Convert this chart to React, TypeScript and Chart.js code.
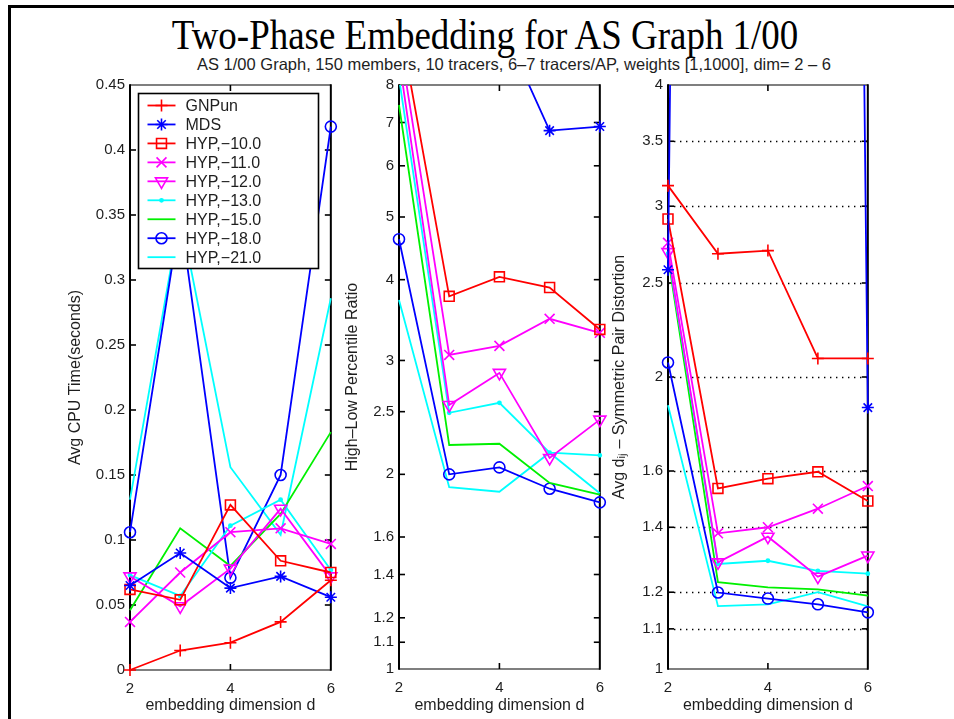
import React, { useEffect, useRef } from 'react';
import { Chart, registerables } from 'chart.js';

Chart.register(...registerables);

// ---------------- data ----------------
const DIMS = [2, 3, 4, 5, 6];
const X_TICKS = [2, 4, 6];
const SERIES_LABELS = ['GNPun', 'MDS', 'HYP,\u221210.0', 'HYP,\u221211.0', 'HYP,\u221212.0', 'HYP,\u221213.0', 'HYP,\u221215.0', 'HYP,\u221218.0', 'HYP,\u221221.0'];

const CPU_TICKS = [0, 0.05, 0.1, 0.15, 0.2, 0.25, 0.3, 0.35, 0.4, 0.45];
const RATIO_TICKS = [1, 1.1, 1.2, 1.4, 1.6, 2, 2.5, 3, 4, 5, 6, 7, 8];
const DIST_TICKS = [1, 1.1, 1.2, 1.4, 1.6, 2, 2.5, 3, 3.5, 4];

// Panel 1: Avg CPU time (seconds)
const CPU_GNPUN = [0, 0.015, 0.021, 0.037, 0.069];
const CPU_MDS = [0.065, 0.090, 0.063, 0.072, 0.056];
const CPU_H10 = [0.062, 0.054, 0.127, 0.084, 0.075];
const CPU_H11 = [0.037, 0.075, 0.106, 0.109, 0.097];
const CPU_H12 = [0.072, 0.049, 0.078, 0.124, 0.072];
const CPU_H13 = [0.073, 0.057, 0.111, 0.131, 0.077];
const CPU_H15 = [0.046, 0.109, 0.080, 0.120, 0.183];
const CPU_H18 = [0.106, 0.35, 0.071, 0.150, 0.418];
const CPU_H21 = [0.131, 0.35, 0.156, 0.104, 0.286];

// Panel 2: High-Low percentile ratio
const RATIO_GNPUN = [20, 16, 14, 13, 12];
const RATIO_MDS = [25, 14, 10.1, 6.8, 6.9];
const RATIO_H10 = [10.1, 3.77, 4.04, 3.89, 3.35];
const RATIO_H11 = [9.5, 3.06, 3.16, 3.48, 3.31];
const RATIO_H12 = [8.8, 2.56, 2.87, 2.12, 2.43];
const RATIO_H13 = [8.2, 2.49, 2.58, 2.16, 2.14];
const RATIO_H15 = [7.45, 2.22, 2.23, 1.94, 1.86];
const RATIO_H18 = [4.62, 2.0, 2.05, 1.9, 1.81];
const RATIO_H21 = [3.72, 1.91, 1.88, 2.16, 1.87];

// Panel 3: Avg dij - symmetric pair distortion
const DIST_GNPUN = [3.15, 2.68, 2.7, 2.09, 2.09];
const DIST_MDS = [2.58, 100000, 100000, 100000, 1.86];
const DIST_H10 = [2.91, 1.535, 1.571, 1.597, 1.49];
const DIST_H11 = [2.75, 1.38, 1.4, 1.463, 1.544];
const DIST_H12 = [2.69, 1.288, 1.369, 1.245, 1.309];
const DIST_H13 = [2.68, 1.283, 1.293, 1.262, 1.254];
const DIST_H15 = [2.66, 1.229, 1.214, 1.208, 1.19];
const DIST_H18 = [2.07, 1.199, 1.182, 1.166, 1.144];
const DIST_H21 = [1.87, 1.161, 1.166, 1.2, 1.16];

// ---------------- styles ----------------
type Style = { color: string; marker: string | null; r: number; rot?: number; fill?: boolean };
const STYLES: Style[] = [
  { color: '#ff0000', marker: 'cross', r: 6 },
  { color: '#0000ff', marker: 'star', r: 6 },
  { color: '#ff0000', marker: 'rect', r: 7 },
  { color: '#ff00ff', marker: 'crossRot', r: 7 },
  { color: '#ff00ff', marker: 'triangle', r: 7, rot: 180 },
  { color: '#00ffff', marker: 'circle', r: 1.6, fill: true },
  { color: '#00f000', marker: null, r: 0 },
  { color: '#0000ff', marker: 'circle', r: 5.5 },
  { color: '#00ffff', marker: null, r: 0 },
];

const SANS = '"Liberation Sans", Arial, Helvetica, sans-serif';
const TEXT_COLOR = '#1e1e1e';
const LINE_W = 1.8;

function buildDatasets(values: number[][]) {
  return values.map((vals, i) => {
    const st = STYLES[i];
    return {
      label: SERIES_LABELS[i],
      data: DIMS.map((d, j) => ({ x: d, y: vals[j] })),
      borderColor: st.color,
      backgroundColor: st.color,
      borderWidth: LINE_W,
      pointStyle: st.marker || 'circle',
      pointRadius: st.marker ? st.r : 0,
      pointRotation: st.rot || 0,
      pointBorderColor: st.color,
      pointBackgroundColor: st.fill ? st.color : 'rgba(0,0,0,0)',
      pointBorderWidth: 1.6,
      tension: 0,
      clip: { left: 12, right: 12, top: 0, bottom: 12 },
    };
  });
}

function drawMarker(ctx: CanvasRenderingContext2D, st: Style, x: number, y: number) {
  if (!st.marker) return;
  const r = st.r;
  ctx.save();
  ctx.strokeStyle = st.color;
  ctx.fillStyle = st.color;
  ctx.lineWidth = 1.6;
  ctx.beginPath();
  const d = r * Math.SQRT1_2;
  switch (st.marker) {
    case 'cross':
      ctx.moveTo(x - r, y); ctx.lineTo(x + r, y);
      ctx.moveTo(x, y - r); ctx.lineTo(x, y + r);
      ctx.stroke();
      break;
    case 'star':
      ctx.moveTo(x - r, y); ctx.lineTo(x + r, y);
      ctx.moveTo(x, y - r); ctx.lineTo(x, y + r);
      ctx.moveTo(x - d, y - d); ctx.lineTo(x + d, y + d);
      ctx.moveTo(x - d, y + d); ctx.lineTo(x + d, y - d);
      ctx.stroke();
      break;
    case 'crossRot':
      ctx.moveTo(x - d, y - d); ctx.lineTo(x + d, y + d);
      ctx.moveTo(x - d, y + d); ctx.lineTo(x + d, y - d);
      ctx.stroke();
      break;
    case 'rect':
      ctx.rect(x - d, y - d, 2 * d, 2 * d);
      ctx.stroke();
      break;
    case 'triangle': {
      let a = ((st.rot || 0) * Math.PI) / 180;
      ctx.moveTo(x + Math.sin(a) * r, y - Math.cos(a) * r);
      a += (2 * Math.PI) / 3;
      ctx.lineTo(x + Math.sin(a) * r, y - Math.cos(a) * r);
      a += (2 * Math.PI) / 3;
      ctx.lineTo(x + Math.sin(a) * r, y - Math.cos(a) * r);
      ctx.closePath();
      ctx.stroke();
      break;
    }
    case 'circle':
      ctx.arc(x, y, r, 0, Math.PI * 2);
      if (st.fill) ctx.fill();
      ctx.stroke();
      break;
  }
  ctx.restore();
}

// MATLAB-like axes box with inward ticks and optional dotted grid
const matlabAxes = {
  id: 'matlabAxes',
  beforeDatasetsDraw(chart: any, _args: any, opts: any) {
    const { ctx, chartArea: a, scales } = chart;
    ctx.save();
    const seg = (x1: number, y1: number, x2: number, y2: number) => {
      ctx.beginPath(); ctx.moveTo(x1, y1); ctx.lineTo(x2, y2); ctx.stroke();
    };
    const yTicks: number[] = opts.yTicks || [];
    if (opts.yGrid) {
      ctx.strokeStyle = '#000';
      ctx.lineWidth = 1.4;
      ctx.setLineDash([1.4, 4.6]);
      for (const v of yTicks) {
        const y = Math.round(scales.y.getPixelForValue(v)) + 0.5;
        if (y <= a.top + 2 || y >= a.bottom - 2) continue;
        seg(a.left, y, a.right, y);
      }
      ctx.setLineDash([]);
    }
    // box
    ctx.strokeStyle = '#555';
    ctx.lineWidth = 1.5;
    seg(a.left, a.top, a.right, a.top);
    seg(a.left, a.bottom, a.right, a.bottom);
    ctx.strokeStyle = '#000';
    ctx.lineWidth = 2;
    seg(a.left, a.top - 0.75, a.left, a.bottom + 0.75);
    seg(a.right, a.top - 0.75, a.right, a.bottom + 0.75);
    // ticks
    const L = 6;
    ctx.lineWidth = 1.6;
    ctx.strokeStyle = '#000';
    for (const v of yTicks) {
      const y = scales.y.getPixelForValue(v);
      if (y <= a.top + 1 || y >= a.bottom - 1) continue;
      seg(a.left, y, a.left + L, y);
      seg(a.right - L, y, a.right, y);
    }
    for (const v of X_TICKS) {
      const x = scales.x.getPixelForValue(v);
      if (x <= a.left + 1 || x >= a.right - 1) continue;
      seg(x, a.bottom, x, a.bottom - L);
      seg(x, a.top, x, a.top + L);
    }
    ctx.restore();
  },
};

// legend box drawn inside first panel
const boxLegend = {
  id: 'boxLegend',
  afterDraw(chart: any, _args: any, opts: any) {
    if (!opts || !opts.show) return;
    const { ctx, chartArea: a } = chart;
    const bx = a.left + 8.5;
    const by = a.top + 8.5;
    const bw = 180;
    const bh = 175;
    ctx.save();
    ctx.fillStyle = '#fff';
    ctx.fillRect(bx, by, bw, bh);
    ctx.strokeStyle = '#000';
    ctx.lineWidth = 1.6;
    ctx.strokeRect(bx, by, bw, bh);
    ctx.font = `16px ${SANS}`;
    ctx.textBaseline = 'middle';
    ctx.textAlign = 'left';
    chart.data.datasets.forEach((ds: any, i: number) => {
      const st = STYLES[i];
      const y = by + 12 + i * 18.96;
      ctx.strokeStyle = st.color;
      ctx.lineWidth = LINE_W;
      ctx.beginPath();
      ctx.moveTo(bx + 9, y);
      ctx.lineTo(bx + 37, y);
      ctx.stroke();
      drawMarker(ctx, st, bx + 23, y);
      ctx.fillStyle = TEXT_COLOR;
      ctx.fillText(ds.label, bx + 47, y + 1);
    });
    ctx.restore();
  },
};

type PanelCfg = {
  left: number; top: number; w: number; h: number;
  yWidth: number; xHeight: number; padTop: number; padRight: number;
  yType: 'linear' | 'logarithmic'; yMin: number; yMax: number; yTicks: number[];
  yTitle: string; yGrid: boolean; legend: boolean; values: number[][];
};

const PANELS: PanelCfg[] = [
  {
    left: 66, top: 70, w: 279, h: 645, yWidth: 64, xHeight: 45, padTop: 15, padRight: 12,
    yType: 'linear', yMin: 0, yMax: 0.45, yTicks: CPU_TICKS, yTitle: 'Avg CPU Time(seconds)', yGrid: false, legend: true,
    values: [CPU_GNPUN, CPU_MDS, CPU_H10, CPU_H11, CPU_H12, CPU_H13, CPU_H15, CPU_H18, CPU_H21],
  },
  {
    left: 343, top: 70, w: 271, h: 645, yWidth: 56, xHeight: 46, padTop: 15, padRight: 12,
    yType: 'logarithmic', yMin: 1, yMax: 8, yTicks: RATIO_TICKS, yTitle: 'High\u2013Low Percentile Ratio', yGrid: false, legend: false,
    values: [RATIO_GNPUN, RATIO_MDS, RATIO_H10, RATIO_H11, RATIO_H12, RATIO_H13, RATIO_H15, RATIO_H18, RATIO_H21],
  },
  {
    left: 610, top: 70, w: 272, h: 645, yWidth: 58, xHeight: 46, padTop: 15, padRight: 12,
    yType: 'logarithmic', yMin: 1, yMax: 4, yTicks: DIST_TICKS, yTitle: 'Avg d\u1d62\u2c7c \u2013 Symmetric Pair Distortion', yGrid: true, legend: false,
    values: [DIST_GNPUN, DIST_MDS, DIST_H10, DIST_H11, DIST_H12, DIST_H13, DIST_H15, DIST_H18, DIST_H21],
  },
];

function Panel({ cfg }: { cfg: PanelCfg }) {
  const ref = useRef<HTMLCanvasElement | null>(null);
  useEffect(() => {
    if (!ref.current) return;
    const tickFont = { family: SANS, size: 15 };
    const titleFont = { family: SANS, size: 16 };
    const chart = new Chart(ref.current, {
      type: 'line',
      data: { datasets: buildDatasets(cfg.values) as any },
      plugins: [matlabAxes, boxLegend],
      options: {
        responsive: false,
        maintainAspectRatio: false,
        animation: false,
        events: [],
        layout: { padding: { top: cfg.padTop, right: cfg.padRight, left: 0, bottom: 0 } },
        plugins: {
          legend: { display: false },
          tooltip: { enabled: false },
          matlabAxes: { yTicks: cfg.yTicks, yGrid: cfg.yGrid },
          boxLegend: { show: cfg.legend },
        } as any,
        scales: {
          x: {
            type: 'linear',
            min: 2,
            max: 6,
            afterBuildTicks: (s: any) => { s.ticks = X_TICKS.map((v) => ({ value: v })); },
            afterFit: (s: any) => { s.height = cfg.xHeight; },
            grid: { display: false, drawTicks: false },
            border: { display: false },
            ticks: { padding: 10, font: tickFont, color: TEXT_COLOR, maxRotation: 0, autoSkip: false, callback: (v: any) => String(v) },
            title: { display: true, text: 'embedding dimension d', font: titleFont, color: TEXT_COLOR, padding: 0 },
          },
          y: {
            type: cfg.yType,
            min: cfg.yMin,
            max: cfg.yMax,
            afterBuildTicks: (s: any) => { s.ticks = cfg.yTicks.map((v) => ({ value: v })); },
            afterFit: (s: any) => { s.width = cfg.yWidth; },
            grid: { display: false, drawTicks: false },
            border: { display: false },
            ticks: { padding: 5, font: tickFont, color: TEXT_COLOR, autoSkip: false, callback: (v: any) => String(v) },
            title: { display: true, text: cfg.yTitle, font: titleFont, color: TEXT_COLOR, padding: 0 },
          },
        } as any,
      },
    });
    return () => chart.destroy();
  }, [cfg]);
  return (
    <canvas
      ref={ref}
      width={cfg.w}
      height={cfg.h}
      style={{ position: 'absolute', left: cfg.left, top: cfg.top, width: cfg.w, height: cfg.h }}
    />
  );
}

export default function App() {
  return (
    <div style={{ position: 'fixed', left: 0, top: 0, width: 954, height: 719, background: '#fff', overflow: 'hidden' }}>
      <div
        style={{
          position: 'absolute', left: 8, top: 5, width: 1000, height: 800,
          borderTop: '3px solid #000', borderLeft: '3px solid #000', boxSizing: 'border-box',
        }}
      />
      <div
        style={{
          position: 'absolute', left: 0, top: 14, width: 970, textAlign: 'center',
          fontFamily: '"Liberation Serif", "Times New Roman", serif', fontSize: 42, lineHeight: '42px',
          color: '#000', transform: 'scaleX(0.88)', transformOrigin: '485px 0', whiteSpace: 'nowrap',
        }}
      >
        Two-Phase Embedding for AS Graph 1/00
      </div>
      <div
        style={{
          position: 'absolute', left: 0, top: 56, width: 1028, textAlign: 'center',
          fontFamily: SANS, fontSize: 16.5, lineHeight: '16.5px', color: TEXT_COLOR, whiteSpace: 'nowrap',
        }}
      >
        AS 1/00 Graph, 150 members, 10 tracers, 6{'\u2013'}7 tracers/AP, weights [1,1000], dim= 2 {'\u2013'} 6
      </div>
      {PANELS.map((p, i) => (
        <Panel key={i} cfg={p} />
      ))}
    </div>
  );
}
